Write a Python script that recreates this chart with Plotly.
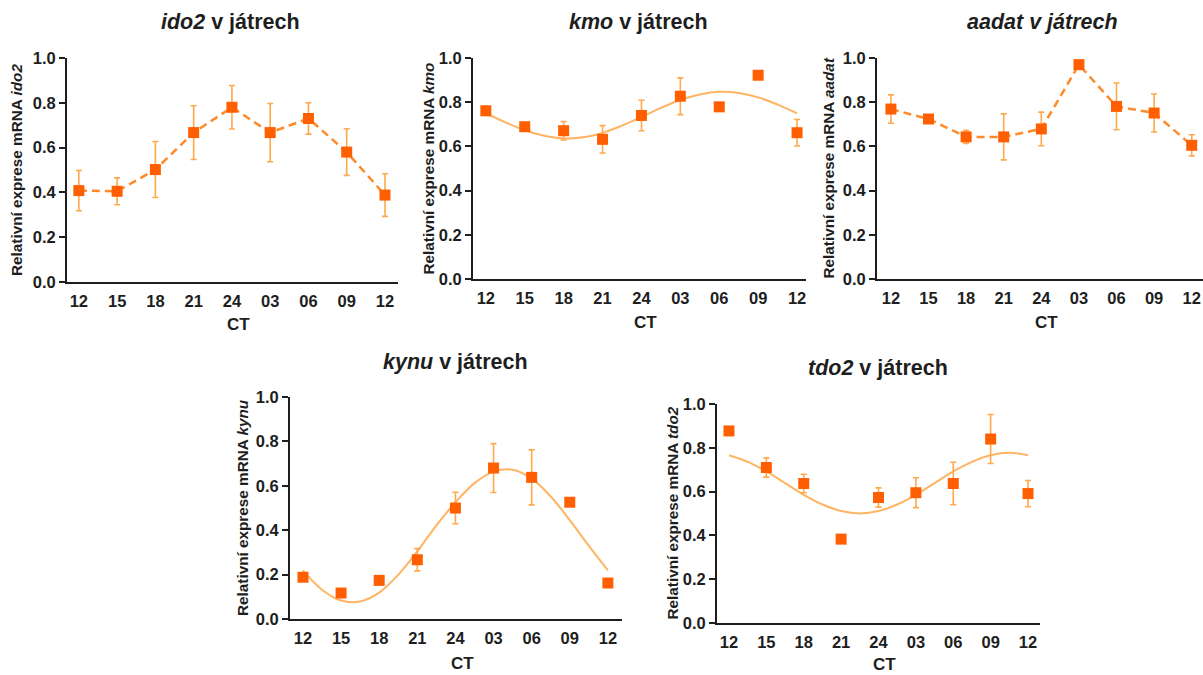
import plotly.graph_objects as go

W, H = 1203, 675

# ---------------- data ----------------
ct_labels = ["12", "15", "18", "21", "24", "03", "06", "09", "12"]
ct_pos = [0, 1, 2, 3, 4, 5, 6, 7, 8]

ido2_mean = [0.408, 0.405, 0.502, 0.667, 0.780, 0.667, 0.730, 0.580, 0.388]
ido2_err = [0.090, 0.060, 0.125, 0.120, 0.097, 0.130, 0.070, 0.104, 0.095]

kmo_mean = [0.761, 0.689, 0.671, 0.632, 0.740, 0.827, 0.779, 0.922, 0.662]
kmo_err = [0.020, 0.015, 0.042, 0.062, 0.069, 0.083, 0.010, 0.012, 0.060]

aadat_mean = [0.769, 0.724, 0.643, 0.643, 0.679, 0.970, 0.781, 0.751, 0.605]
aadat_err = [0.064, 0.010, 0.030, 0.104, 0.076, 0.005, 0.106, 0.086, 0.048]

kynu_mean = [0.188, 0.117, 0.174, 0.267, 0.500, 0.680, 0.638, 0.526, 0.162]
kynu_err = [0.010, 0.010, 0.010, 0.050, 0.071, 0.110, 0.124, 0.010, 0.010]

tdo2_mean = [0.877, 0.710, 0.637, 0.383, 0.573, 0.595, 0.637, 0.840, 0.591]
tdo2_err = [0.010, 0.044, 0.042, 0.005, 0.044, 0.068, 0.097, 0.112, 0.060]

# fitted (cosinor) curves at half-step positions
fit_pos = [0, 0.5, 1, 1.5, 2, 2.5, 3, 3.5, 4, 4.5, 5, 5.5, 6, 6.5, 7, 7.5, 8]
kmo_fit = [0.750, 0.709, 0.673, 0.648, 0.636, 0.641, 0.661, 0.694, 0.733,
           0.774, 0.810, 0.835, 0.847, 0.842, 0.822, 0.789, 0.750]
kynu_fit = [0.219, 0.132, 0.083, 0.079, 0.119, 0.199, 0.305, 0.422, 0.525,
            0.612, 0.664, 0.672, 0.632, 0.552, 0.445, 0.329, 0.219]
tdo2_fit = [0.766, 0.736, 0.692, 0.639, 0.585, 0.541, 0.511, 0.500, 0.511,
            0.541, 0.585, 0.639, 0.692, 0.736, 0.766, 0.777, 0.766]

y_ticks = [0.0, 0.2, 0.4, 0.6, 0.8, 1.0]

# ---------------- styling ----------------
FONT = "Liberation Sans, Arial, sans-serif"
INK = "#1e1e1e"
MARK = "#ff5f00"
ERR = "#ffa94d"
DASH = "#ff8a2a"
FIT = "#ffb463"

# panel geometry in pixels: (left, right, top, bottom)
panels = [
    dict(gene="ido2", mean=ido2_mean, err=ido2_err, fit=None, style="dash",
         box=(67, 398, 58, 282), xr=(-0.31, 8.34), title_xy=(230, 22),
         title="<b><i>ido2</i> v játrech</b>", ytx=17, ct_y=324),
    dict(gene="kmo", mean=kmo_mean, err=kmo_err, fit=kmo_fit, style="fit",
         box=(473, 806, 58, 279), xr=(-0.33, 8.23), title_xy=(638, 22),
         title="<b><i>kmo</i> v játrech</b>", ytx=428, ct_y=322),
    dict(gene="aadat", mean=aadat_mean, err=aadat_err, fit=None, style="dash",
         box=(877, 1203, 58, 279), xr=(-0.37, 8.3), title_xy=(1042, 22),
         title="<b><i>aadat v játrech</i></b>", ytx=828, ct_y=322),
    dict(gene="kynu", mean=kynu_mean, err=kynu_err, fit=kynu_fit, style="fit",
         box=(290, 622, 397, 619), xr=(-0.34, 8.37), title_xy=(455, 362),
         title="<b><i>kynu</i> v játrech</b>", ytx=242, ct_y=663),
    dict(gene="tdo2", mean=tdo2_mean, err=tdo2_err, fit=tdo2_fit, style="fit",
         box=(717, 1040, 404, 623), xr=(-0.32, 8.32), title_xy=(878, 368),
         title="<b><i>tdo2</i> v játrech</b>", ytx=672, ct_y=664),
]

fig = go.Figure()
annotations = []

for i, p in enumerate(panels, start=1):
    xa = "x" if i == 1 else f"x{i}"
    ya = "y" if i == 1 else f"y{i}"
    l, r, t, b = p["box"]

    if p["fit"] is not None:
        fig.add_trace(go.Scatter(
            x=fit_pos, y=p["fit"], mode="lines",
            line=dict(color=FIT, width=2, shape="spline"),
            xaxis=xa, yaxis=ya, showlegend=False, hoverinfo="skip",
            cliponaxis=False))

    fig.add_trace(go.Scatter(
        x=ct_pos, y=p["mean"],
        mode="lines+markers" if p["style"] == "dash" else "markers",
        line=dict(color=DASH, width=2.5, dash="8px,5px"),
        marker=dict(symbol="square", size=11, color=MARK),
        error_y=dict(type="data", array=p["err"], visible=True, color=ERR,
                     thickness=1.6, width=3),
        xaxis=xa, yaxis=ya, showlegend=False, cliponaxis=False))

    xkey = "xaxis" if i == 1 else f"xaxis{i}"
    ykey = "yaxis" if i == 1 else f"yaxis{i}"
    fig.update_layout(**{
        xkey: dict(domain=[l / W, r / W], anchor=ya, range=list(p["xr"]),
                   tickmode="array", tickvals=ct_pos, ticktext=ct_labels,
                   showline=True, linecolor=INK, linewidth=2, ticks="",
                   showgrid=False, zeroline=False, fixedrange=True,
                   automargin=False,
                   tickfont=dict(family=FONT, size=16.5, color=INK, weight="bold"),
                   ticklabelstandoff=3),
        ykey: dict(domain=[1 - b / H, 1 - t / H], anchor=xa, range=[0, 1.0],
                   tickmode="array", tickvals=y_ticks,
                   ticktext=[f"{v:.1f}" for v in y_ticks],
                   showline=True, linecolor=INK, linewidth=2,
                   ticks="outside", ticklen=6, tickwidth=2, tickcolor=INK,
                   showgrid=False, zeroline=False, fixedrange=True,
                   automargin=False,
                   tickfont=dict(family=FONT, size=16.5, color=INK, weight="bold")),
    })

    # panel title
    annotations.append(dict(
        text=p["title"], x=p["title_xy"][0] / W, y=1 - p["title_xy"][1] / H,
        xref="paper", yref="paper", xanchor="center", yanchor="middle",
        showarrow=False, font=dict(family=FONT, size=21.5, color=INK)))
    # y-axis title
    annotations.append(dict(
        text=f"<b>Relativní exprese mRNA <i>{p['gene']}</i></b>",
        x=p["ytx"] / W, y=1 - ((t + b) / 2) / H, xref="paper", yref="paper",
        xanchor="center", yanchor="middle", textangle=-90, showarrow=False,
        font=dict(family=FONT, size=15.3, color=INK)))
    # x-axis title
    annotations.append(dict(
        text="<b>CT</b>", x=((l + r) / 2 + 6) / W, y=1 - p["ct_y"] / H,
        xref="paper", yref="paper", xanchor="center", yanchor="middle",
        showarrow=False, font=dict(family=FONT, size=17, color=INK)))

fig.update_layout(
    width=W, height=H, margin=dict(l=0, r=0, t=0, b=0),
    paper_bgcolor="white", plot_bgcolor="white",
    annotations=annotations, showlegend=False,
)

fig.write_html("out.html", config={"displayModeBar": False},
               post_script="document.body.style.margin='0';"
                           "document.body.style.overflow='hidden';")
